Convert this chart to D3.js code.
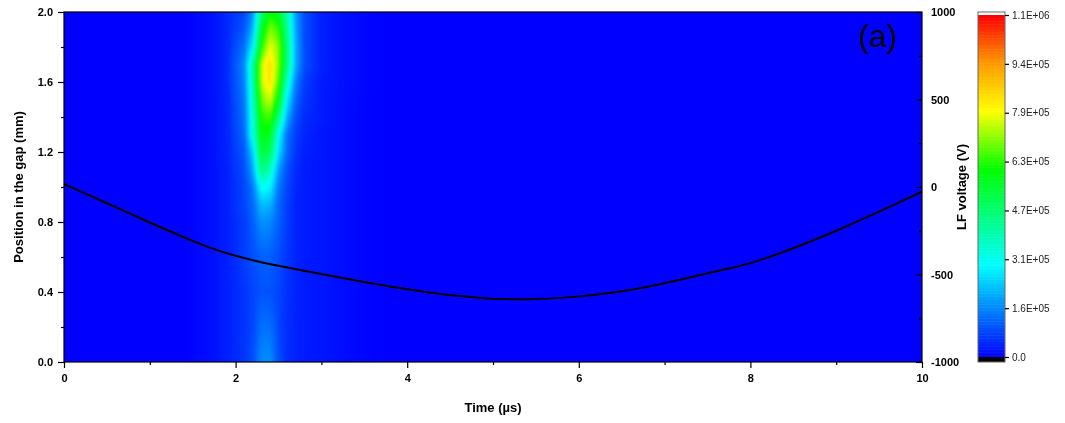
<!DOCTYPE html>
<html>
<head>
<meta charset="utf-8">
<script src="https://cdnjs.cloudflare.com/ajax/libs/d3/7.8.5/d3.min.js"></script>
<style>
body { margin: 0; background: #fff; }
#chart { position: relative; width: 1065px; height: 423px; }
#chart canvas { position: absolute; }
#chart svg { position: absolute; left: 0; top: 0; }
text { font-family: "Liberation Sans", Arial, sans-serif; }
</style>
</head>
<body>
<div id="chart"></div>
<script>
// time columns of the contour grid (µs)
var times = [0, 1.4, 1.7, 1.9, 2.1, 2.2, 2.3, 2.4, 2.5, 2.6, 2.7, 2.8, 3.0, 3.3, 3.7, 10];
// position rows of the grid (mm)
var positions = [0, 0.2, 0.4, 0.6, 0.8, 0.9, 1.0, 1.1, 1.2, 1.3, 1.4, 1.5, 1.6, 1.7, 1.8, 1.9, 2.0];
// intensity, units of 1E+05, one row per position
var intensity = [
  [0, 0, 0.15, 0.35, 0.6, 0.9, 1.6, 1.7, 0.9, 0.5, 0.4, 0.3, 0.25, 0.12, 0, 0],
  [0, 0, 0.15, 0.35, 0.6, 0.8, 1.3, 1.3, 0.8, 0.5, 0.4, 0.3, 0.25, 0.12, 0, 0],
  [0, 0, 0.15, 0.35, 0.6, 0.8, 0.95, 0.95, 0.8, 0.55, 0.4, 0.3, 0.25, 0.12, 0, 0],
  [0, 0, 0.15, 0.35, 0.7, 0.9, 1.1, 1.1, 0.9, 0.6, 0.4, 0.3, 0.25, 0.12, 0, 0],
  [0, 0, 0.15, 0.35, 0.7, 1.1, 1.7, 1.6, 1.1, 0.7, 0.4, 0.3, 0.25, 0.12, 0, 0],
  [0, 0, 0.15, 0.35, 0.8, 1.2, 2.2, 2.1, 1.2, 0.7, 0.4, 0.3, 0.25, 0.12, 0, 0],
  [0, 0, 0.15, 0.35, 0.8, 1.4, 3.1, 2.9, 1.4, 0.8, 0.45, 0.3, 0.25, 0.12, 0, 0],
  [0, 0, 0.15, 0.35, 0.9, 1.9, 4.6, 3.8, 1.8, 0.9, 0.5, 0.3, 0.25, 0.12, 0, 0],
  [0, 0, 0.15, 0.4, 1.0, 2.4, 5.4, 5.0, 2.6, 1.2, 0.6, 0.35, 0.25, 0.12, 0, 0],
  [0, 0, 0.15, 0.4, 1.2, 3.3, 5.9, 5.7, 3.1, 1.3, 0.7, 0.4, 0.25, 0.12, 0, 0],
  [0, 0, 0.15, 0.4, 1.3, 3.4, 6.2, 6.6, 4.6, 2.0, 0.9, 0.5, 0.3, 0.12, 0, 0],
  [0, 0, 0.15, 0.4, 1.4, 3.6, 6.8, 7.6, 5.8, 2.8, 1.2, 0.6, 0.3, 0.12, 0, 0],
  [0, 0, 0.15, 0.45, 1.5, 3.9, 7.4, 8.4, 6.6, 3.6, 1.5, 0.7, 0.3, 0.15, 0, 0],
  [0, 0, 0.15, 0.45, 1.6, 4.0, 7.4, 8.5, 7.0, 4.6, 2.0, 0.9, 0.35, 0.15, 0, 0],
  [0, 0, 0.15, 0.45, 1.3, 2.8, 6.2, 7.8, 7.0, 4.6, 2.0, 0.9, 0.35, 0.15, 0, 0],
  [0, 0, 0.15, 0.45, 1.0, 2.1, 5.4, 7.0, 6.4, 4.3, 1.9, 0.9, 0.35, 0.15, 0, 0],
  [0, 0, 0.15, 0.45, 0.8, 1.6, 4.6, 6.0, 5.6, 4.0, 1.8, 0.9, 0.35, 0.15, 0, 0]
];

// LF voltage curve
var vTimes = [0, 0.5, 1, 1.5, 1.75, 2, 2.25, 2.5, 3, 3.5, 4, 4.5, 5, 5.5, 6, 6.5, 7, 7.5, 8, 8.5, 9, 9.5, 10];
var voltage = [17, -93, -203, -308, -355, -393, -424, -450, -497, -543, -584, -617, -638, -640, -625, -596, -549, -493, -435, -350, -250, -141, -27];

// tick labels
var xTicks = [0, 2, 4, 6, 8, 10];
var yTicks = [0, 0.4, 0.8, 1.2, 1.6, 2.0];
var vTicks = [-1000, -500, 0, 500, 1000];
var cbTicks = [0, 1.571, 3.143, 4.714, 6.286, 7.857, 9.429, 11];
var cbLabels = ["0.0", "1.6E+05", "3.1E+05", "4.7E+05", "6.3E+05", "7.9E+05", "9.4E+05", "1.1E+06"];

var	margin = {top: 12, left: 64},
	width = 858,
	height = 350;

var x = d3.scaleLinear().domain([0, 10]).range([0, width]);
var y = d3.scaleLinear().domain([0, 2]).range([height, 0]);
var yV = d3.scaleLinear().domain([-1000, 1000]).range([height, 0]);

var color = d3.scaleLinear()
	.domain([0, 2.97, 6.05, 7.92, 9.46, 11])
	.range(["#0000ff", "#00ffff", "#00ff00", "#ffff00", "#ff9900", "#ff0000"])
	.clamp(true);

// heat map: drawn off screen with a pad, then softened onto the visible canvas
var pad = 8;
var off = document.createElement("canvas");
off.width = width + 2 * pad; off.height = height + 2 * pad;
var octx = off.getContext("2d");
var img = octx.createImageData(off.width, off.height);

var ti = d3.scaleLinear().domain(times).range(d3.range(times.length)).clamp(true);
var pi = d3.scaleLinear().domain(positions).range(d3.range(positions.length)).clamp(true);

// colour lookup
var lut = d3.range(0, 1101).map(function(k) { return d3.rgb(color(k / 100)); });

for (var py = 0; py < off.height; py++) {
	var fj = pi(y.invert(py - pad + 0.5));
	var j0 = Math.min(Math.floor(fj), positions.length - 2), wy = fj - j0;
	for (var px = 0; px < off.width; px++) {
		var fi = ti(x.invert(px - pad + 0.5));
		var i0 = Math.min(Math.floor(fi), times.length - 2), wx = fi - i0;
		var v = (intensity[j0][i0] * (1 - wx) + intensity[j0][i0 + 1] * wx) * (1 - wy)
			+ (intensity[j0 + 1][i0] * (1 - wx) + intensity[j0 + 1][i0 + 1] * wx) * wy;
		var c = lut[Math.max(0, Math.min(1100, Math.round(v * 100)))];
		var k = (py * off.width + px) * 4;
		img.data[k] = c.r; img.data[k + 1] = c.g; img.data[k + 2] = c.b; img.data[k + 3] = 255;
	}
}
octx.putImageData(img, 0, 0);

var canvas = d3.select("#chart").append("canvas")
	.attr("width", width).attr("height", height)
	.style("left", margin.left + "px").style("top", margin.top + "px");
var ctx = canvas.node().getContext("2d");
ctx.filter = "blur(1.5px)";
ctx.drawImage(off, -pad, -pad);

var svg = d3.select("#chart").append("svg")
	.attr("width", 1065).attr("height", 423);
var g = svg.append("g")
	.attr("transform", "translate(" + margin.left + "," + margin.top + ")");

// voltage line
var valueline = d3.line()
	.x(function(d) { return x(d[0]); })
	.y(function(d) { return yV(d[1]); })
	.curve(d3.curveCatmullRom.alpha(0.5));
g.append("path")
	.attr("d", valueline(vTimes.map(function(t, i) { return [t, voltage[i]]; })))
	.attr("fill", "none").attr("stroke", "#000").attr("stroke-width", 2);

// frame
g.append("rect").attr("width", width).attr("height", height)
	.attr("fill", "none").attr("stroke", "#000").attr("stroke-width", 1.2);

function styleAxis(sel, bold, size) {
	sel.select(".domain").remove();
	sel.selectAll("line").attr("stroke", "#000").attr("stroke-width", 1.2);
	sel.selectAll("text").attr("font-size", size).attr("font-weight", bold ? "bold" : "normal")
		.attr("fill", "#000").attr("font-family", "'Liberation Sans', Arial, sans-serif");
}

// bottom axis
g.append("g").attr("transform", "translate(0," + height + ")")
	.call(d3.axisBottom(x).tickValues(xTicks).tickSize(6).tickPadding(6))
	.call(styleAxis, true, 11);
g.append("g").attr("transform", "translate(0," + height + ")")
	.call(d3.axisBottom(x).tickValues([1, 3, 5, 7, 9]).tickSize(3).tickFormat(""))
	.call(styleAxis, true, 11);

// left axis
g.append("g")
	.call(d3.axisLeft(y).tickValues(yTicks).tickSize(6).tickPadding(5).tickFormat(d3.format(".1f")))
	.call(styleAxis, true, 11);
g.append("g")
	.call(d3.axisLeft(y).tickValues([0.2, 0.6, 1.0, 1.4, 1.8]).tickSize(3).tickFormat(""))
	.call(styleAxis, true, 11);

// right axis, ticks point inward
g.append("g").attr("transform", "translate(" + width + ",0)")
	.call(d3.axisRight(yV).tickValues(vTicks).tickSize(-6).tickPadding(9)
		.tickFormat(function(d) { return String(d); }))
	.call(styleAxis, true, 11);
g.append("g").attr("transform", "translate(" + width + ",0)")
	.call(d3.axisRight(yV).tickValues([-750, -250, 250, 750]).tickSize(-3).tickFormat(""))
	.call(styleAxis, true, 11);

// axis titles
svg.append("text").attr("x", margin.left + width / 2).attr("y", 412)
	.attr("text-anchor", "middle").attr("font-size", 13).attr("font-weight", "bold")
	.text("Time (µs)");
svg.append("text").attr("transform", "translate(23," + (margin.top + height / 2) + ") rotate(-90)")
	.attr("text-anchor", "middle").attr("font-size", 13).attr("font-weight", "bold")
	.text("Position in the gap (mm)");
svg.append("text").attr("transform", "translate(966," + (margin.top + height / 2) + ") rotate(-90)")
	.attr("text-anchor", "middle").attr("font-size", 13).attr("font-weight", "bold")
	.text("LF voltage (V)");

// panel label
svg.append("text").attr("x", 897).attr("y", 47)
	.attr("text-anchor", "end").attr("font-size", 32)
	.text("(a)");

// colour bar
var cb = d3.scaleLinear().domain([0, 11]).range([357, 15]);
var cbx = 978, cbw = 27;
var bar = svg.append("g");
var steps = d3.range(0, 11, 0.05);
bar.selectAll("rect.lvl").data(steps).enter().append("rect")
	.attr("class", "lvl")
	.attr("x", cbx).attr("width", cbw)
	.attr("y", function(d) { return cb(d + 0.05); })
	.attr("height", function(d) { return cb(d) - cb(d + 0.05) + 0.5; })
	.attr("fill", function(d) { return color(d + 0.025); });
bar.append("rect").attr("x", cbx).attr("width", cbw).attr("y", cb(0)).attr("height", 362 - cb(0)).attr("fill", "#000");
bar.append("rect").attr("x", cbx).attr("width", cbw).attr("y", 12).attr("height", cb(11) - 12).attr("fill", "#fff");
bar.append("rect").attr("x", cbx).attr("width", cbw).attr("y", 12).attr("height", 350)
	.attr("fill", "none").attr("stroke", "#666").attr("stroke-width", 1);
bar.append("g").attr("transform", "translate(" + (cbx + cbw) + ",0)")
	.call(d3.axisRight(cb).tickValues(cbTicks).tickSize(4).tickPadding(3)
		.tickFormat(function(d, i) { return cbLabels[i]; }))
	.call(styleAxis, false, 10)
	.selectAll("text").attr("fill", "#222");
</script>
</body>
</html>
